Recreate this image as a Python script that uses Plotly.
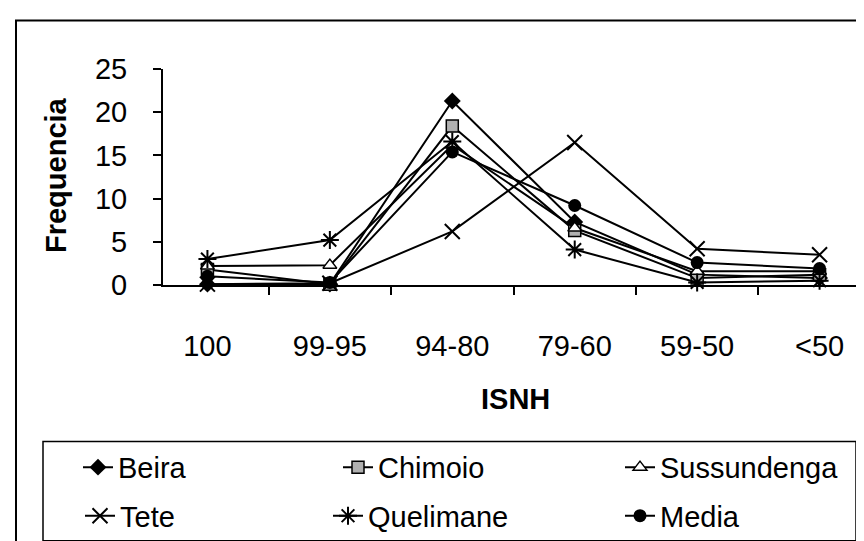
import plotly.graph_objects as go

categories = ["100", "99-95", "94-80", "79-60", "59-50", "<50"]
beira = [0.1, 0.1, 21.3, 7.3, 1.2, 0.8]
chimoio = [1.8, 0.1, 18.4, 6.3, 0.8, 1.2]
sussundenga = [2.2, 2.3, 16.2, 6.6, 1.6, 1.6]
tete = [0.1, 0.2, 6.2, 16.5, 4.2, 3.5]
quelimane = [3.0, 5.2, 16.6, 4.1, 0.3, 0.5]
media = [1.0, 0.3, 15.4, 9.2, 2.6, 1.9]

y_ticks = [0, 5, 10, 15, 20, 25]

FONT = "Liberation Sans, Arial, sans-serif"
FS = 29

series = [
    ("Beira", beira, dict(symbol="diamond", size=13, color="black")),
    ("Chimoio", chimoio, dict(symbol="square", size=12, color="#b0b0b0", line=dict(color="black", width=1.5))),
    ("Sussundenga", sussundenga, dict(symbol="triangle-up", size=12, color="white", line=dict(color="black", width=1.5))),
    ("Tete", tete, dict(symbol="x-thin", size=15, color="black", line=dict(color="black", width=2))),
    ("Quelimane", quelimane, dict(symbol="asterisk", size=15, color="black", line=dict(color="black", width=2))),
    ("Media", media, dict(symbol="circle", size=13, color="black")),
]

L, R, T, B = 155, 8, 61, 262
W, H = 864, 541
PW, PH = W - L - R, H - T - B

def px(x):
    return (x - L) / PW

def py(y):
    return (H - B - y) / PH

# legend entry anchor positions (pixels): left edge of each legend entry, row centre
legend_pos = [(70, 463), (330, 463), (612, 463), (72, 512), (320, 512), (612, 512)]

fig = go.Figure()
layout_legends = {}
for i, ((name, vals, mk), (lx, ly)) in enumerate(zip(series, legend_pos)):
    key = "legend" if i == 0 else f"legend{i + 1}"
    fig.add_trace(go.Scatter(
        x=categories, y=vals, name=name, mode="lines+markers",
        line=dict(color="black", width=2), marker=mk, legend=key,
        cliponaxis=False,
    ))
    layout_legends[key] = dict(orientation="h", x=px(lx), y=py(ly), xanchor="left", yanchor="middle",
                               bgcolor="rgba(0,0,0,0)", font=dict(family=FONT, size=FS, color="black"),
                               itemclick=False, itemdoubleclick=False)

fig.update_layout(
    width=W, height=H,
    margin=dict(l=L, r=R, t=T, b=B),
    paper_bgcolor="white", plot_bgcolor="white",
    font=dict(family=FONT, size=FS, color="black"),
    xaxis=dict(type="category", categoryorder="array", categoryarray=categories,
               showline=True, linecolor="black", linewidth=2,
               ticks="outside", tickson="boundaries", ticklen=8, tickwidth=2, tickcolor="black",
               showgrid=False, zeroline=False, ticklabelstandoff=34,
               tickfont=dict(family=FONT, size=FS)),
    yaxis=dict(range=[0, 25], tickvals=y_ticks, showline=True, linecolor="black", linewidth=2,
               ticks="outside", ticklen=8, tickwidth=2, tickcolor="black",
               showgrid=False, zeroline=False, ticklabelstandoff=20,
               tickfont=dict(family=FONT, size=FS)),
    showlegend=True,
    **layout_legends,
)

fig.add_annotation(text="<b>Frequencia</b>", xref="paper", yref="paper", x=px(48), y=py(168),
                   textangle=-90, showarrow=False, font=dict(family=FONT, size=FS),
                   xanchor="center", yanchor="middle")
fig.add_annotation(text="<b>ISNH</b>", xref="paper", yref="paper", x=px(507), y=py(394),
                   showarrow=False, font=dict(family=FONT, size=FS),
                   xanchor="center", yanchor="middle")

# outer chart frame
fig.add_shape(type="rect", xref="paper", yref="paper", x0=px(8), x1=px(870), y0=py(545), y1=py(12),
              line=dict(color="black", width=2), fillcolor="rgba(0,0,0,0)", layer="below")
# legend frame
fig.add_shape(type="rect", xref="paper", yref="paper", x0=px(35), x1=px(848), y0=py(537), y1=py(437),
              line=dict(color="black", width=1.5), fillcolor="rgba(0,0,0,0)", layer="below")

fig.write_html("out.html")
